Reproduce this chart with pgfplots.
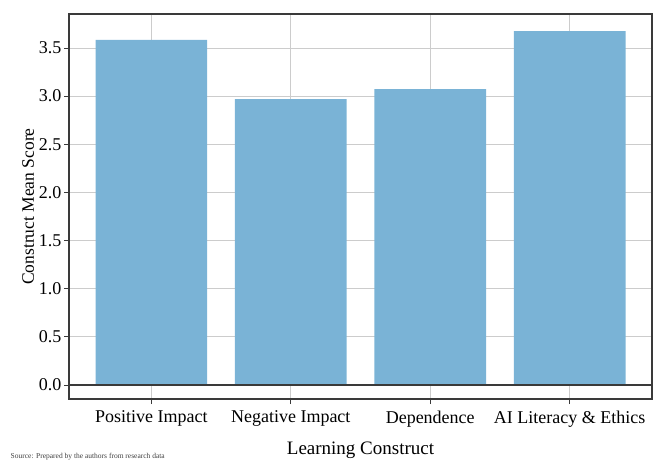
\documentclass[border=0pt]{standalone}
\usepackage{pgfplots}
\pgfplotsset{compat=1.18}
\usepackage{fontspec}
\setmainfont{Liberation Serif}
\definecolor{barblue}{HTML}{7AB3D6}
\definecolor{gridgray}{HTML}{CCCCCC}
\definecolor{axgray}{HTML}{3A3A3A}
\begin{document}
\begin{tikzpicture}
\path[use as bounding box] (0pt,0pt) rectangle (655pt,461pt);
\begin{axis}[
  at={(69pt,62pt)}, anchor=south west,
  scale only axis, width=583pt, height=385pt,
  xmin=-0.59, xmax=3.59,
  ymin=-0.145, ymax=3.853,
  xtick={0,1,2,3},
  xticklabels={Positive Impact, Negative Impact, Dependence, AI Literacy \& Ethics},
  ytick={0,0.5,1,1.5,2,2.5,3,3.5},
  yticklabel style={font=\fontsize{18}{20}\selectfont, /pgf/number format/fixed, /pgf/number format/fixed zerofill, /pgf/number format/precision=1, /pgf/number format/assume math mode=true, xshift=1pt},
  xticklabel style={font=\fontsize{18}{20}\selectfont, yshift=-3pt},
  xlabel={Learning Construct},
  ylabel={Construct Mean Score},
  xlabel style={font=\fontsize{19}{21}\selectfont, yshift=-8pt},
  ylabel style={font=\fontsize{17.5}{19}\selectfont, yshift=-2pt},
  grid=major,
  major grid style={gridgray, line width=0.8pt},
  axis line style={axgray, line width=1.1pt},
  tick style={axgray, line width=0.9pt},
  tick align=outside,
  major tick length=5pt,
  xtick pos=bottom, ytick pos=left,
]
\addplot[ybar, bar width=0.8, fill=barblue, draw=none] coordinates {
  (0,3.583) (1,2.970) (2,3.074) (3,3.676)
};
\addplot[axgray, line width=1.1pt, mark=none] coordinates {(-0.59,0) (3.59,0)};
\end{axis}
\node[anchor=south west, inner sep=0.5pt, font=\fontsize{7.5}{8}\selectfont, text=black!75] at (10pt,0pt) {Source: Prepared by the authors from research data};
\end{tikzpicture}
\end{document}
